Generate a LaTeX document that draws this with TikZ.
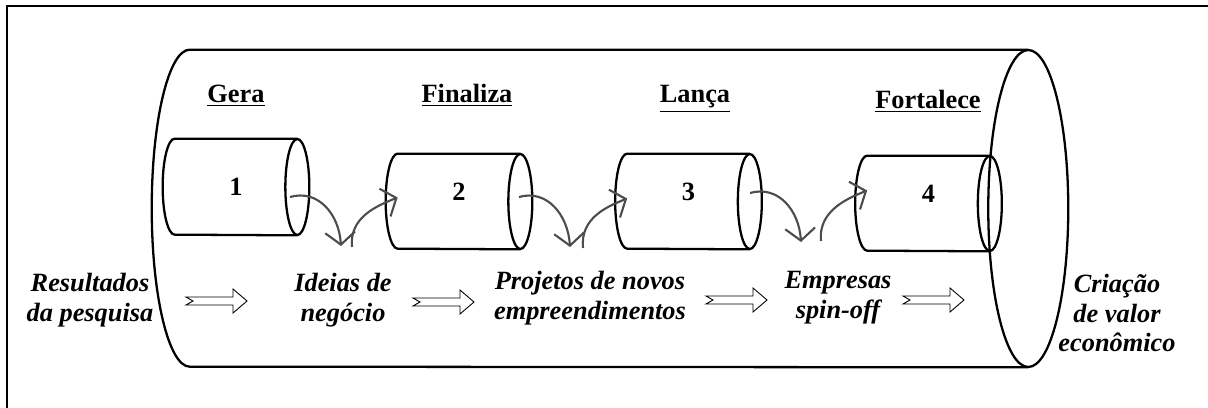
\documentclass[tikz,border=0pt]{standalone}
\usepackage{fontspec}
\setmainfont{Liberation Serif}
\usetikzlibrary{arrows.meta}

\tikzset{pics/hollow/.style={code={
  \draw[line width=0.5pt] (0,-4) -- (47,-4) -- (47,-12) -- (61,0) -- (47,12) -- (47,4) -- (0,4) -- (7,0) -- cycle;}}}

\begin{document}
\begin{tikzpicture}[x=0.02cm,y=-0.02cm,>={Straight Barb[length=7pt,width=17pt]},
  every node/.style={font=\fontsize{15}{17}\selectfont\bfseries},
  tube/.style={inner sep=0pt,minimum width=2.44cm,minimum height=1.9cm,text depth=0.4cm},
  head/.style={anchor=base},
  outline/.style={line width=1.3pt},
  stage/.style={align=center,font=\fontsize{15}{17}\selectfont\bfseries\itshape},
  flow/.style={->,draw=black!70,line width=1.2pt}]
  \useasboundingbox (0,0) rectangle (1208,408);
  \draw[outline] (7,408) -- (7,6) -- (1208,6);

  % the whole process and its four stages
  \node[tube,minimum width=16.76cm,minimum height=6.34cm] (big) at (609,208.5) {};
  \node[tube,minimum height=1.92cm,text depth=0pt] (c1) at (236,187) {1};
  \node[tube] (c2) at (459,201.5)   {2};
  \node[tube] (c3) at (688.5,201.5) {3};
  \node[tube] (c4) at (928.5,203.5) {4};

  \draw[outline] (big.north east) -- (big.north west)
    arc[start angle=-90,end angle=-270,x radius=38,y radius=158.5] -- (big.south east)
    (big.east) ellipse[x radius=40,y radius=158.5];
  \foreach \n/\ry in {c1/48,c2/47.5,c3/47.5,c4/47.5}
    \draw[outline] (\n.north east) -- (\n.north west)
      arc[start angle=-90,end angle=-270,x radius=12,y radius=\ry] -- (\n.south east)
      (\n.east) ellipse[x radius=12,y radius=\ry];

  \node[head] (gera) at (236,103) {\underline{Gera}};
  \node[head] (fin)  at (467,103) {\underline{Finaliza}};
  \node[head] (lan)  at (695,103) {\underline{Lança}};
  \node[head] (fort) at (928,109) {\underline{Fortalece}};

  \node[stage] (res) at (90,300)   {Resultados\\da pesquisa};
  \node[stage] (ide) at (343,300)  {Ideias de\\negócio};
  \node[stage] (pro) at (590,298)  {Projetos de novos\\empreendimentos};
  \node[stage] (emp) at (838,298)  {Empresas\\spin-off};
  \node[stage] (cri) at (1117,313) {Criação\\de valor\\econômico};

  \foreach \x/\y in {186/301,413/302,706/300,903/300}
    \pic at (\x,\y) {hollow};

  % hand-offs between the stages
  \coordinate (o1) at (290,197); \coordinate (d1) at (341,246); \coordinate (u1) at (352,247);
  \coordinate (o2) at (519,197); \coordinate (d2) at (570,247); \coordinate (u2) at (583,248);
  \coordinate (o3) at (750,193); \coordinate (d3) at (801,242); \coordinate (u3) at (821,241);
  \draw[flow] (o1) .. controls +(28,-8) and +(-2,-32) .. (d1);
  \draw[flow] (u1) .. controls +(-3,-30) and +(-20,8) .. ([yshift=0.08cm]c2.west);
  \draw[flow] (o2) .. controls +(28,-8) and +(-2,-32) .. (d2);
  \draw[flow] (u2) .. controls +(-3,-30) and +(-20,8) .. ([yshift=0.06cm]c3.west);
  \draw[flow] (o3) .. controls +(28,-8) and +(-2,-32) .. (d3);
  \draw[flow] (u3) .. controls +(-3,-30) and +(-20,8) .. ([yshift=0.26cm]c4.west);
\end{tikzpicture}
\end{document}
